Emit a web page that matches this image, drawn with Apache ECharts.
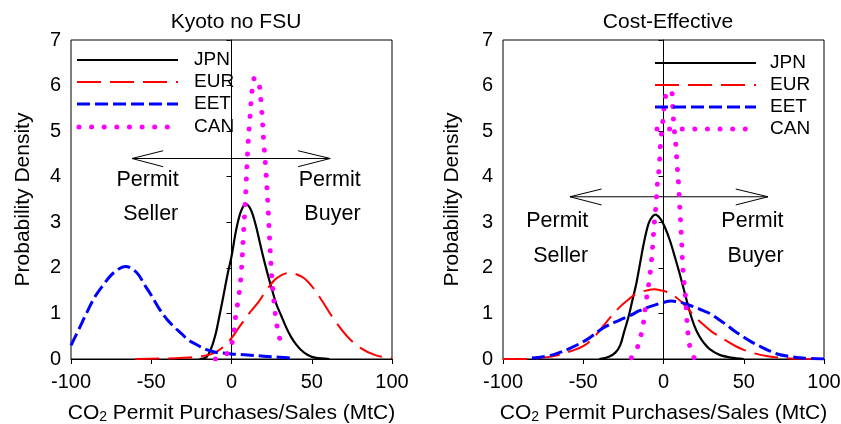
<!DOCTYPE html>
<html>
<head>
<meta charset="utf-8">
<script src="https://cdn.jsdelivr.net/npm/echarts@6/dist/echarts.min.js"></script>
<style>
  html, body { margin: 0; padding: 0; background: #fff; }
  #chart { width: 841px; height: 424px; }
</style>
</head>
<body>
<div id="chart"></div>
<script>
// Panel titles and region names
const panelTitles = ['Kyoto no FSU', 'Cost-Effective'];
const regionNames = ['JPN', 'EUR', 'EET', 'CAN'];

// Kyoto no FSU: [permit purchases/sales (MtC), probability density]
const kyotoJPN = [[-20,0],[-16,0.03],[-13,0.2],[-10,0.53],[-7.5,0.95],[-5.5,1.3],[-2.5,1.85],[0,2.25],[3,2.85],[6,3.25],[9,3.4],[12,3.28],[15,2.95],[18,2.5],[21.5,2.0],[25,1.55],[28,1.2],[31,0.95],[34,0.7],[37,0.49],[40,0.33],[43,0.21],[47,0.1],[52,0.03],[61,0]];
const kyotoEUR = [[-60,0],[-45,0.01],[-32,0.02],[-19,0.06],[-11,0.13],[-4.6,0.28],[0,0.46],[5,0.71],[11,1.0],[17,1.26],[22,1.52],[28,1.77],[36,1.89],[44,1.8],[50,1.6],[56,1.3],[64,0.86],[72,0.5],[80,0.25],[90,0.08],[100,0.02]];
const kyotoEET = [[-100,0.3],[-95,0.66],[-90,1.03],[-85,1.37],[-80,1.62],[-75,1.84],[-70,1.98],[-66,2.03],[-62,1.98],[-58,1.85],[-54,1.62],[-50,1.4],[-45,1.1],[-40,0.86],[-35,0.68],[-31,0.55],[-27,0.42],[-23,0.34],[-19,0.26],[-15,0.2],[-10,0.15],[-5,0.13],[0,0.11],[10,0.09],[20,0.06],[30,0.04],[38,0.02]];
const kyotoCAN = [[-10,0],[-2.5,0.13],[0.6,0.4],[2.7,0.97],[4.2,1.3],[5.8,1.77],[7.5,2.76],[8.9,3.67],[10,4.51],[11.6,5.35],[13.1,5.98],[14.5,6.17],[16,6.15],[17.2,6.05],[18.7,5.5],[20.3,4.66],[21.4,4.15],[22.8,3.31],[24,2.46],[25.5,1.62],[27.6,0.9],[29.3,0.56],[31,0.3]];

// Cost-Effective
const costJPN = [[-40,0],[-34,0.05],[-30,0.14],[-27,0.3],[-24.5,0.6],[-22,0.9],[-19.5,1.27],[-16.8,1.68],[-14.5,2.12],[-12.5,2.5],[-10.5,2.82],[-8.5,3.04],[-5,3.17],[-2,3.08],[1,2.88],[4,2.6],[7,2.25],[10,1.88],[13,1.48],[16,1.08],[19,0.75],[22,0.52],[25,0.36],[29,0.21],[35,0.09],[42,0.03],[50,0]];
const costEUR = [[-100,0],[-85,0],[-75,0.03],[-66,0.08],[-58,0.17],[-50,0.28],[-44,0.45],[-38.6,0.68],[-33,0.92],[-27,1.15],[-21,1.33],[-16.8,1.44],[-11,1.5],[-5.5,1.53],[-1,1.5],[2,1.47],[8,1.35],[14,1.15],[19,0.95],[24.6,0.76],[30,0.6],[35,0.49],[40,0.38],[45,0.28],[50,0.2],[56,0.13],[65,0.06],[76,0.02],[88,0.005],[100,0]];
const costEET = [[-82,0.02],[-69,0.09],[-58,0.24],[-48,0.42],[-37.6,0.68],[-27,0.86],[-21,0.95],[-15,1.06],[-8.5,1.15],[-0.2,1.24],[5,1.27],[10,1.25],[15.3,1.19],[20,1.13],[24,1.07],[28.8,1.0],[34,0.88],[39.2,0.75],[44,0.62],[49.5,0.49],[55,0.37],[60,0.28],[66,0.18],[72,0.1],[80,0.05],[87,0.02],[100,0]];
const costCAN = [[-20,0.03],[-16,0.28],[-12.7,0.75],[-11,1.22],[-9,1.7],[-7.5,2.14],[-6.5,2.61],[-5.4,3.12],[-4.6,3.4],[-4,3.78],[-2.7,4.2],[-1.9,4.69],[-0.5,5.2],[0.8,5.64],[2.5,5.88],[4.8,5.88],[5.6,5.64],[6.4,5.16],[7.7,4.69],[8.5,4.25],[9.5,3.78],[10.1,3.34],[10.6,3.05],[11.2,2.65],[11.8,2.14],[12.8,1.66],[13.9,1.3],[14.3,1.0],[15.3,0.53],[16.4,0.28],[19,0.03]];

// Buyer/seller arrows: shaft ends and open heads, per panel (data units)
const kyotoArrowShaft = [[-62,4.4],[61.5,4.4]];
const kyotoArrowHeadL = [[-42.6,4.57],[-62,4.4],[-42.6,4.22]];
const kyotoArrowHeadR = [[41.5,4.57],[61.5,4.4],[41.5,4.22]];
const costArrowShaft = [[-58.3,3.56],[65.1,3.56]];
const costArrowHeadL = [[-38.6,3.73],[-58.3,3.56],[-38.6,3.38]];
const costArrowHeadR = [[45,3.73],[65.1,3.56],[45,3.38]];

// Annotation words [x, y, text]
const kyotoWords = [[-52.3,3.93,'Permit'],[-50.3,3.18,'Seller'],[61.2,3.93,'Permit'],[62.9,3.18,'Buyer']];
const costWords = [[-66.2,3.03,'Permit'],[-64.1,2.25,'Seller'],[55.4,3.03,'Permit'],[57.4,2.25,'Buyer']];

const zeroLine = [[0,0],[0,7]];

const FONT = "'Liberation Sans', Arial, Helvetica, sans-serif";
const styles = {
  JPN: { color: '#000000', width: 2.2, type: 'solid', cap: 'butt' },
  EUR: { color: '#ff0000', width: 2, type: [24, 9], cap: 'butt' },
  EET: { color: '#0000ff', width: 3, type: [13, 5], cap: 'butt' },
  CAN: { color: '#ff00ff', width: 5, type: [0.01, 12.6], cap: 'round' }
};

const chart = echarts.init(document.getElementById('chart'), null, { renderer: 'canvas' });

const grids = [
  { left: 71, top: 40, width: 321, height: 319 },
  { left: 503, top: 40, width: 321, height: 319 }
];

function xAxisFor(i) {
  return {
    type: 'value', gridIndex: i, min: -100, max: 100, interval: 50,
    name: 'CO{sub|2} Permit Purchases/Sales (MtC)',
    nameLocation: 'middle', nameGap: 44,
    nameTextStyle: {
      fontSize: 21, color: '#000', fontFamily: FONT,
      rich: { sub: { fontSize: 14, fontFamily: FONT, color: '#000', verticalAlign: 'bottom', lineHeight: 10 } }
    },
    axisLine: { show: true, onZero: false, lineStyle: { color: '#000', width: 1 } },
    axisTick: { show: true, inside: false, length: 5, lineStyle: { color: '#000' } },
    axisLabel: { fontSize: 20, color: '#000', margin: 13, fontFamily: FONT },
    splitLine: { show: false }
  };
}
function yAxisFor(i) {
  return {
    type: 'value', gridIndex: i, min: 0, max: 7, interval: 1,
    name: 'Probability Density', nameLocation: 'middle', nameGap: i === 0 ? 37 : 40,
    nameTextStyle: { fontSize: 21, color: '#000', fontFamily: FONT },
    axisLine: { show: true, lineStyle: { color: '#000', width: 1 } },
    axisTick: { show: true, inside: false, length: 5, lineStyle: { color: '#000' } },
    axisLabel: { fontSize: 20, color: '#000', margin: 10, fontFamily: FONT },
    splitLine: { show: false }
  };
}

function curve(name, data, i) {
  const s = styles[name];
  return {
    name, type: 'line', xAxisIndex: i, yAxisIndex: i, data,
    smooth: 0.35, showSymbol: false, symbol: 'none', silent: true, z: 3,
    lineStyle: { color: s.color, width: s.width, type: s.type, cap: s.cap }
  };
}
function thinLine(data, i) {
  return {
    type: 'line', xAxisIndex: i, yAxisIndex: i, data, showSymbol: false, symbol: 'none',
    silent: true, z: 2, lineStyle: { color: '#000', width: 1 }
  };
}

const panels = [
  { curves: [kyotoJPN, kyotoEUR, kyotoEET, kyotoCAN], arrows: [kyotoArrowShaft, kyotoArrowHeadL, kyotoArrowHeadR], words: kyotoWords },
  { curves: [costJPN, costEUR, costEET, costCAN], arrows: [costArrowShaft, costArrowHeadL, costArrowHeadR], words: costWords }
];

const series = [];
panels.forEach((p, i) => {
  series.push(thinLine(zeroLine, i));
  p.arrows.forEach(a => series.push(thinLine(a, i)));
  p.curves.forEach((d, k) => series.push(curve(regionNames[k], d, i)));
});

// Legend boxes drawn as sample strokes next to their labels
const legendLayouts = [
  { x1: 77, x2: 178, tx: 194, rows: [60, 82, 104, 127] },
  { x1: 655, x2: 756, tx: 770, rows: [63, 85, 107, 129] }
];
function legendGraphics() {
  const g = [];
  legendLayouts.forEach(L => {
    regionNames.forEach((n, k) => {
      const s = styles[n];
      const y = L.rows[k];
      g.push({
        type: 'line', z: 10, silent: true,
        shape: { x1: n === 'CAN' ? L.x1 + 2 : L.x1, y1: y, x2: L.x2, y2: y },
        style: { stroke: s.color, lineWidth: s.width, lineDash: s.type === 'solid' ? null : s.type, lineCap: s.cap }
      });
      g.push({
        type: 'text', z: 10, silent: true, x: L.tx, y: y,
        style: { text: n, fontSize: 19, fontFamily: FONT, fill: '#000', verticalAlign: 'middle', align: 'left' }
      });
    });
  });
  return g;
}

chart.setOption({
  animation: false,
  backgroundColor: '#fff',
  textStyle: { fontFamily: FONT },
  title: [
    { text: panelTitles[0], left: 231, top: 7, textAlign: 'center', textStyle: { fontSize: 21, fontWeight: 'normal', color: '#000', fontFamily: FONT } },
    { text: panelTitles[1], left: 663, top: 7, textAlign: 'center', textStyle: { fontSize: 21, fontWeight: 'normal', color: '#000', fontFamily: FONT } }
  ],
  grid: grids.map(g => Object.assign({ show: true, borderColor: '#000', borderWidth: 1, backgroundColor: 'transparent', containLabel: false, outerBoundsMode: 'none' }, g)),
  xAxis: [xAxisFor(0), xAxisFor(1)],
  yAxis: [yAxisFor(0), yAxisFor(1)],
  series
});

// Seller/Buyer words placed through each panel's own axes
const graphic = legendGraphics();
panels.forEach((p, i) => {
  p.words.forEach(w => {
    const pt = chart.convertToPixel({ gridIndex: i }, [w[0], w[1]]);
    graphic.push({
      type: 'text', z: 10, silent: true, x: pt[0], y: pt[1],
      style: { text: w[2], fontSize: 21.5, fontFamily: FONT, fill: '#000', align: 'center', verticalAlign: 'middle' }
    });
  });
});
chart.setOption({ graphic });
</script>
</body>
</html>
